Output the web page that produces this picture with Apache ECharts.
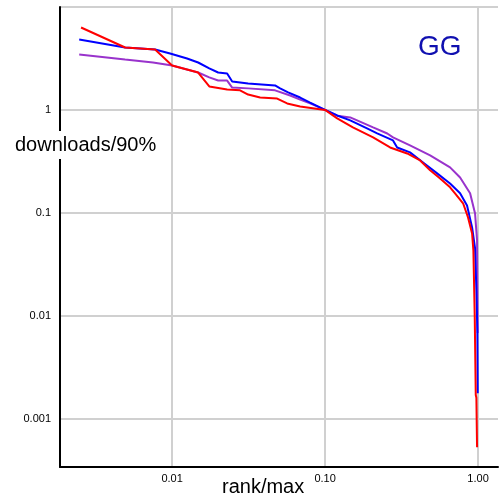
<!DOCTYPE html>
<html>
<head>
<meta charset="utf-8">
<script src="https://cdn.jsdelivr.net/npm/echarts@6/dist/echarts.min.js"></script>
<style>
html, body { margin: 0; padding: 0; background: #fff; }
#chart { width: 504px; height: 504px; }
</style>
</head>
<body>
<div id="chart"></div>
<script>
// red
const redX = [0.00254, 0.00493, 0.00774, 0.01, 0.0148, 0.0175, 0.0229, 0.0278, 0.0314, 0.0376, 0.0486, 0.0565, 0.0687, 0.1,
    0.12, 0.152, 0.206, 0.266, 0.344, 0.418, 0.486, 0.565, 0.656, 0.707, 0.798, 0.86, 0.914, 0.932, 0.951, 0.966, 0.975, 0.985];
const redY = [6.32, 4.04, 3.87, 2.70, 2.31, 1.69, 1.58, 1.55, 1.41, 1.32, 1.29, 1.157, 1.08, 1.0,
    0.827, 0.676, 0.541, 0.432, 0.378, 0.323, 0.259, 0.216, 0.177, 0.155, 0.124, 0.0904, 0.0632, 0.0433, 0.01, 0.0017, 0.0016, 0.00053];

// blue
const blueX = [0.00247, 0.00493, 0.00774, 0.0097, 0.01253, 0.0148, 0.0175, 0.02, 0.0229, 0.0247, 0.0314, 0.0471, 0.0508, 0.0573,
    0.0687, 0.0798, 0.1, 0.12, 0.146, 0.188, 0.219, 0.278, 0.296, 0.359, 0.437, 0.54, 0.656, 0.763, 0.847, 0.914, 0.956,
    0.975, 0.99, 0.995];
const blueY = [4.83, 4.04, 3.87, 3.54, 3.16, 2.89, 2.53, 2.31, 2.26, 1.89, 1.81, 1.73, 1.62, 1.48,
    1.32, 1.18, 1.0, 0.884, 0.791, 0.661, 0.591, 0.506, 0.432, 0.387, 0.309, 0.242, 0.193, 0.155, 0.118, 0.0723, 0.0452,
    0.018, 0.0068, 0.00177];

// purple
const purpleX = [0.00247, 0.00493, 0.0075, 0.01, 0.0148, 0.0175, 0.02, 0.0229, 0.0247, 0.0314, 0.0471, 0.0591, 0.0687, 0.0798,
    0.1, 0.12, 0.146, 0.206, 0.255, 0.278, 0.359, 0.486, 0.656, 0.763, 0.887, 0.956, 0.985, 0.99, 0.995];
const purpleY = [3.46, 3.09, 2.89, 2.70, 2.31, 2.07, 1.93, 1.93, 1.65, 1.62, 1.55, 1.38, 1.26, 1.157,
    1.0, 0.88, 0.846, 0.676, 0.591, 0.541, 0.452, 0.362, 0.277, 0.221, 0.155, 0.0985, 0.054, 0.0221, 0.0068];

const xLabel = 'rank/max';
const yLabel = 'downloads/90%';
const tag = 'GG';

const zip = (xs, ys) => xs.map((x, i) => [x, ys[i]]);

const chart = echarts.init(document.getElementById('chart'));

const lineSeries = (data, color) => ({
    type: 'line',
    data: data,
    showSymbol: false,
    symbol: 'none',
    lineStyle: { color: color, width: 2 },
    itemStyle: { color: color },
    animation: false
});

const gridLine = { lineStyle: { color: '#d0d0d0', width: 2 } };

chart.setOption({
    animation: false,
    grid: { left: 60, right: 6, top: 7, bottom: 37 },
    xAxis: {
        type: 'log',
        min: 0.00185,
        max: 1.35,
        axisLine: { lineStyle: { color: '#000', width: 2 } },
        axisTick: { show: false },
        axisLabel: {
            color: '#000', fontSize: 11, fontFamily: 'Liberation Sans', margin: 6,
            showMinLabel: false, showMaxLabel: false,
            formatter: v => Number(v).toFixed(2)
        },
        splitLine: Object.assign({ show: true, showMaxLine: false }, gridLine)
    },
    yAxis: {
        type: 'log',
        min: 0.00034,
        max: 10,
        axisLine: { show: true, lineStyle: { color: '#000', width: 2 } },
        axisTick: { show: false },
        axisLabel: {
            color: '#000', fontSize: 11, fontFamily: 'Liberation Sans', margin: 9,
            showMinLabel: false, showMaxLabel: false,
            formatter: v => String(parseFloat(Number(v).toPrecision(2)))
        },
        splitLine: Object.assign({ show: true }, gridLine)
    },
    graphic: [
        {
            type: 'text', left: 15, top: 131, z: 100,
            style: {
                text: yLabel, fill: '#000', font: '20px "Liberation Sans"',
                backgroundColor: '#fff', padding: [4, 0, 4, 0]
            }
        },
        {
            type: 'text', left: 222, top: 477, z: 100,
            style: { text: xLabel, fill: '#000', font: '20px "Liberation Sans"' }
        },
        {
            type: 'text', left: 418, top: 33, z: 100,
            style: { text: tag, fill: '#1010b0', font: '28px "Liberation Sans"' }
        }
    ],
    series: [
        lineSeries(zip(purpleX, purpleY), '#9933cc'),
        lineSeries(zip(blueX, blueY), '#0000ff'),
        lineSeries(zip(redX, redY), '#ff0000')
    ]
});
</script>
</body>
</html>
